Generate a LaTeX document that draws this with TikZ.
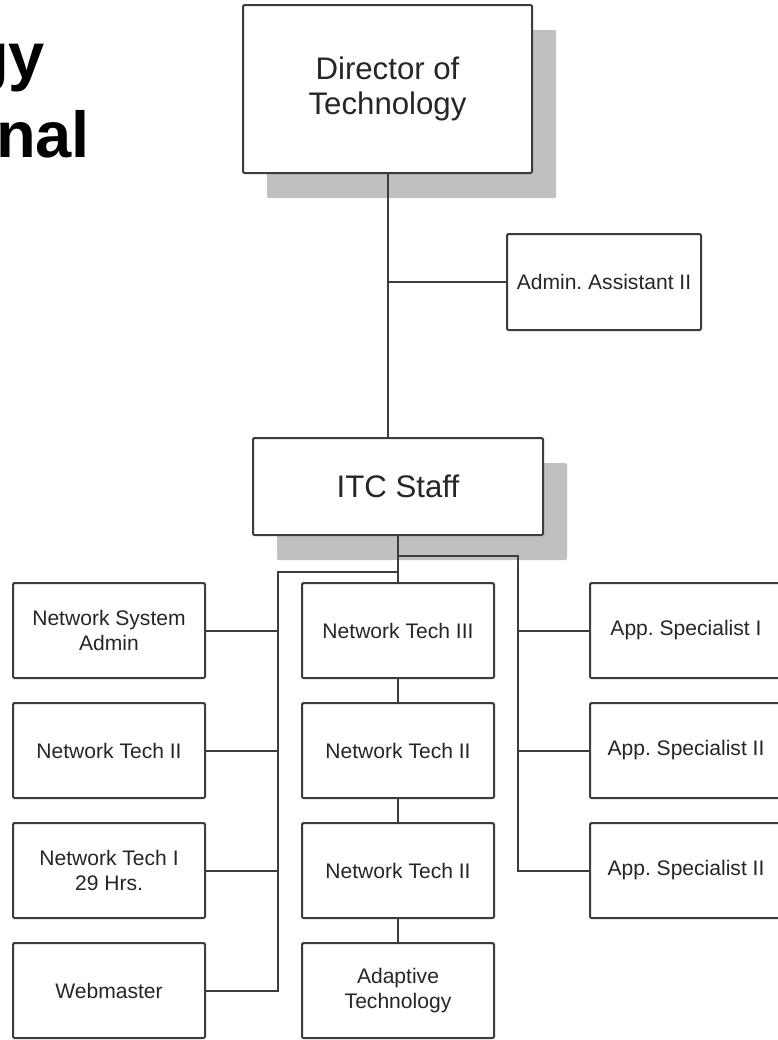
\documentclass[tikz,border=0pt]{standalone}
\usepackage{fontspec}
\setmainfont{Liberation Sans}
\usetikzlibrary{positioning,shadows,calc}
\definecolor{linegray}{HTML}{3C3C3C}
\definecolor{shadowgray}{HTML}{C0C0C0}
\frenchspacing

\begin{document}
\begin{tikzpicture}[x=0.75pt,y=-0.75pt,on grid,node distance=90pt,line width=1.5pt,draw=linegray]

    \tikzstyle{post}=[draw=linegray,line width=1.5pt,fill=white,rectangle,rounded corners=1pt,minimum width=144pt,minimum height=71.25pt,align=center,text=black!85,font=\fontsize{15.8pt}{18.75pt}\selectfont]
    \tikzstyle{boss}=[post,drop shadow={shadow xshift=18pt,shadow yshift=-18.75pt,fill=shadowgray,draw=none,opacity=1},font=\fontsize{23.4pt}{26.25pt}\selectfont]
    \tikzstyle{title}=[anchor=base east,inner sep=0pt,text=black,font=\fontsize{48.75pt}{58pt}\selectfont\bfseries]

    \useasboundingbox (0,0) rectangle (778,1040);
    \clip (0,0) rectangle (778,1040);

    \node[title] (ttl1) at (46,78)  {gy};
    \node[title] (ttl2) at (91,157) {nal};

    \node[boss,minimum width=216.75pt,minimum height=126pt] (dir) at (387.5,89) {Director of\\Technology};
    \node[post,minimum width=145.5pt,minimum height=72pt] (admin) at (604,282) {Admin. Assistant II};
    \node[boss,minimum width=217.5pt,minimum height=72.75pt] (itc) at (398,486.5) {ITC Staff};

    \node[post] (nt3)   [below=108pt of itc]   {Network Tech III};
    \node[post] (nt2a)  [below=of nt3]         {Network Tech II};
    \node[post] (nt2b)  [below=of nt2a]        {Network Tech II};
    \node[post] (adapt) [below=of nt2b]        {Adaptive\\Technology};

    \node[post] (nsa)   [left=216.75pt of nt3] {Network System\\Admin};
    \node[post] (nt2c)  [below=of nsa]         {Network Tech II};
    \node[post] (nt1)   [below=of nt2c]        {Network Tech I\\29 Hrs.};
    \node[post] (web)   [below=of nt1]         {Webmaster};

    \node[post] (app1)  [right=216pt of nt3]   {App. Specialist I};
    \node[post] (app2)  [below=of app1]        {App. Specialist II};
    \node[post] (app3)  [below=of app2]        {App. Specialist II};

    \coordinate (lsplit) at (278,572);
    \coordinate (rsplit) at (518,556);

    \draw (dir.south) -- (dir.south |- itc.north);
    \draw (admin.west) -- (admin.west -| dir.south);
    \draw (itc.south) -- (nt3.north)
          (nt3) -- (nt2a)
          (nt2a) -- (nt2b)
          (nt2b) -- (adapt);
    \draw (itc.south) |- (lsplit) |- (web.east);
    \draw (itc.south) |- (rsplit) |- (app3.west);
    \foreach \n in {nsa,nt2c,nt1}
        \draw (\n.east) -- (\n.east -| lsplit);
    \foreach \n in {app1,app2}
        \draw (\n.west) -- (\n.west -| rsplit);
\end{tikzpicture}
\end{document}
